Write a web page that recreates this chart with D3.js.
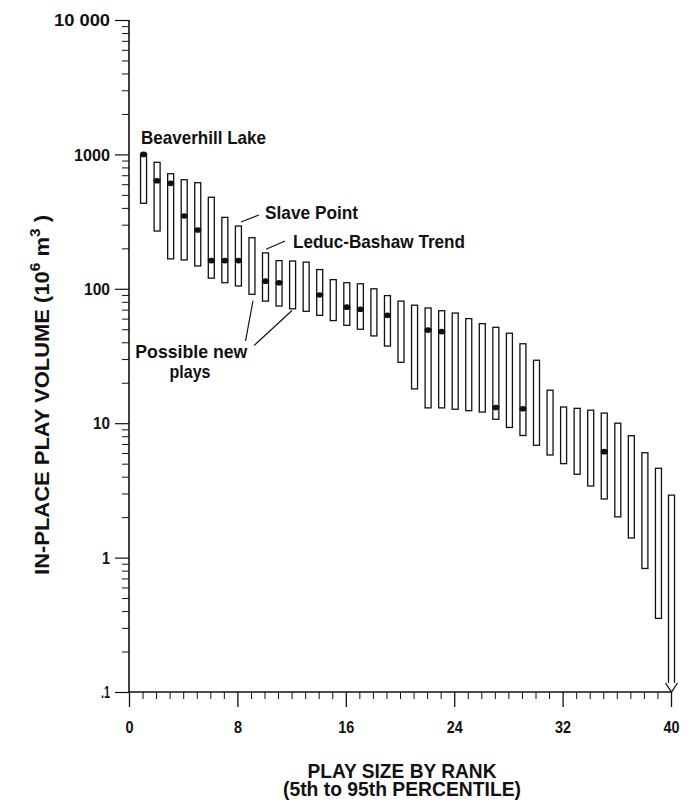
<!DOCTYPE html>
<html>
<head>
<meta charset="utf-8">
<script src="https://cdn.jsdelivr.net/npm/d3@7"></script>
<style>
  html, body { margin: 0; padding: 0; background: #fff; }
  svg { display: block; }
  text { font-family: "Liberation Sans", Arial, Helvetica, sans-serif; font-weight: bold; fill: #111; }
</style>
</head>
<body>
<svg id="chart" width="691" height="801"></svg>
<script>
// ---------- DATA ----------
const ranks = [1,2,3,4,5,6,7,8,9,10,11,12,13,14,15,16,17,18,19,20,21,22,23,24,25,26,27,28,29,30,31,32,33,34,35,36,37,38,39,40];
// top of each bar (10^6 m^3)
const highs = [1000, 873, 718, 648, 616, 480, 340, 293, 240, 185,
               162, 161, 158, 139, 117, 111, 109, 100, 89, 81,
               75.5, 72, 68.7, 66, 60, 55, 51.7, 46.7, 39, 29.4,
               17.6, 13.2, 12.9, 12.5, 11.9, 10, 8.07, 6.03, 4.62, 2.92];
// bottom of each bar
const lows = [433, 269, 167, 164, 148, 120, 111, 105, 91, 81,
              74.5, 71, 68, 63.5, 58, 53.5, 50, 44.6, 37.5, 28.4,
              18, 13, 13, 12.7, 12.4, 12.1, 10.7, 9.3, 8.1, 6.85,
              5.8, 5.0, 4.17, 3.41, 2.73, 2.01, 1.40, 0.83, 0.353, 0.1];
// discovered plays (dots): rank and size
const dotRanks  = [1, 2, 3, 4, 5, 6, 7, 8, 10, 11, 14, 16, 17, 19, 22, 23, 27, 29, 35];
const dotValues = [1000, 637, 609, 348, 274, 162, 162, 162, 114, 111, 90, 73, 70.4, 63.5, 49.3, 48, 13.1, 12.8, 6.14];
// axis ticks
const yMajorTicks = [0.1, 1, 10, 100, 1000, 10000];
const yTickLabels = [".1", "1", "10", "100", "1000", "10 000"];
const xMajorTicks = [0, 8, 16, 24, 32, 40];
const xMinorTicks = [1,2,3,4,5,6,7,9,10,11,12,13,14,15,17,18,19,20,21,22,23,25,26,27,28,29,30,31,33,34,35,36,37,38,39];
const openEndedRank = 40; // bar extends below axis (arrow)

// ---------- LAYOUT ----------
const svg = d3.select("#chart");
const x = d3.scaleLinear().domain([0, 40]).range([129, 671]);
const y = d3.scaleLog().domain([0.1, 10000]).range([692, 20]);

function fit(sel, w) { sel.attr("textLength", w).attr("lengthAdjust", "spacingAndGlyphs"); }

const yMinor = [];
yMajorTicks.slice(0, -1).forEach(d => { for (let k = 2; k <= 9; k++) yMinor.push(d * k); });

const g = svg.append("g");

// ---------- Y AXIS ----------
const yAx = g.append("g").attr("transform", `translate(${x(0)},0)`)
  .call(d3.axisLeft(y).tickValues(yMajorTicks).tickSize(14).tickPadding(5)
    .tickFormat((d, i) => yTickLabels[i]));
yAx.select(".domain").remove();
yAx.selectAll("line").attr("stroke", "#111").attr("stroke-width", 1.2);
yAx.selectAll("text").style("font-size", "16px").attr("dy", "0.35em")
  .each(function (d, i) { d3.select(this).attr("textLength", [9, 8, 17, 26, 36, 56][i]).attr("lengthAdjust", "spacingAndGlyphs"); });

const yAxMinor = g.append("g").attr("transform", `translate(${x(0)},0)`)
  .call(d3.axisLeft(y).tickValues(yMinor).tickSize(7).tickFormat(""));
yAxMinor.select(".domain").remove();
yAxMinor.selectAll("line").attr("stroke", "#111").attr("stroke-width", 1);

g.append("line").attr("x1", x(0)).attr("x2", x(0)).attr("y1", y(10000)).attr("y2", y(0.1))
  .attr("stroke", "#111").attr("stroke-width", 1.6);

// ---------- X AXIS ----------
const xAx = g.append("g").attr("transform", `translate(0,${y(0.1)})`)
  .call(d3.axisBottom(x).tickValues(xMajorTicks).tickSize(15).tickPadding(15).tickFormat(d3.format("d")));
xAx.select(".domain").remove();
xAx.selectAll("line").attr("stroke", "#111").attr("stroke-width", 1.3);
xAx.selectAll("text").style("font-size", "16px")
  .each(function (d) { const s = String(d); d3.select(this).attr("textLength", s.length === 1 ? 8 : 16).attr("lengthAdjust", "spacingAndGlyphs"); });

const xAxMinor = g.append("g").attr("transform", `translate(0,${y(0.1)})`)
  .call(d3.axisBottom(x).tickValues(xMinorTicks).tickSize(7).tickFormat(""));
xAxMinor.select(".domain").remove();
xAxMinor.selectAll("line").attr("stroke", "#111").attr("stroke-width", 1);

g.append("line").attr("x1", x(0)).attr("x2", x(40)).attr("y1", y(0.1)).attr("y2", y(0.1))
  .attr("stroke", "#111").attr("stroke-width", 1.6);

// ---------- BARS ----------
const bw = 6;
const bars = ranks.map((r, i) => ({ r, hi: highs[i], lo: lows[i] }));
g.selectAll("rect.bar").data(bars.filter(d => d.r !== openEndedRank)).join("rect")
  .attr("class", "bar")
  .attr("x", d => x(d.r) - bw / 2 + 1)
  .attr("width", bw)
  .attr("y", d => y(d.hi))
  .attr("height", d => y(d.lo) - y(d.hi))
  .attr("fill", "#fff").attr("stroke", "#111").attr("stroke-width", 1.3);

// open-ended bar with arrow
bars.filter(d => d.r === openEndedRank).forEach(d => {
  const cx = x(d.r) + 0.5, top = y(d.hi), bot = y(d.lo);
  const path = d3.path();
  path.moveTo(cx - bw / 2, bot - 9);
  path.lineTo(cx - bw / 2, top);
  path.lineTo(cx + bw / 2, top);
  path.lineTo(cx + bw / 2, bot - 9);
  g.append("path").attr("d", path.toString()).attr("fill", "#fff").attr("stroke", "#111").attr("stroke-width", 1.3);
  const arr = d3.path();
  arr.moveTo(cx - bw / 2 - 3, bot - 9);
  arr.lineTo(cx, bot);
  arr.lineTo(cx + bw / 2 + 3, bot - 9);
  g.append("path").attr("d", arr.toString()).attr("fill", "none").attr("stroke", "#111").attr("stroke-width", 1.3);
});

// ---------- DOTS ----------
g.selectAll("ellipse.dot").data(dotRanks.map((r, i) => ({ r, v: dotValues[i] }))).join("ellipse")
  .attr("class", "dot")
  .attr("cx", d => x(d.r) + 1).attr("cy", d => y(d.v))
  .attr("rx", 3.6).attr("ry", 2.8).attr("fill", "#111");

// ---------- ANNOTATIONS ----------
const lines = [
  { x1: 8.27, v1: 314, x2: 9.59, v2: 354 },     // Slave Point
  { x1: 10.12, v1: 197, x2: 11.51, v2: 227 },   // Leduc-Bashaw
  { x1: 9.15, v1: 81.5, x2: 8.6, v2: 40.9 },    // Possible new plays 1
  { x1: 9.23, v1: 37.8, x2: 12.03, v2: 69 }     // Possible new plays 2
];
g.selectAll("line.lead").data(lines).join("line").attr("class", "lead")
  .attr("x1", d => x(d.x1)).attr("y1", d => y(d.v1))
  .attr("x2", d => x(d.x2)).attr("y2", d => y(d.v2))
  .attr("stroke", "#111").attr("stroke-width", 1.2);

const labels = [
  { t: "Beaverhill Lake", xr: 0.89, v: 1194, anchor: "start", w: 125 },
  { t: "Slave Point", xr: 10.04, v: 330, anchor: "start", w: 93 },
  { t: "Leduc-Bashaw Trend", xr: 12.1, v: 201, anchor: "start", w: 172 },
  { t: "Possible new", xr: 4.6, v: 30.6, anchor: "middle", w: 112 },
  { t: "plays", xr: 4.5, v: 21.7, anchor: "middle", w: 41 }
];
g.selectAll("text.ann").data(labels).join("text").attr("class", "ann")
  .attr("x", d => x(d.xr)).attr("y", d => y(d.v))
  .attr("text-anchor", d => d.anchor)
  .style("font-size", "19px")
  .attr("textLength", d => d.w).attr("lengthAdjust", "spacingAndGlyphs")
  .text(d => d.t);

// ---------- AXIS TITLES ----------
svg.append("text").attr("x", 402).attr("y", 778).attr("text-anchor", "middle")
  .style("font-size", "20px").call(fit, 189).text("PLAY SIZE BY RANK");
svg.append("text").attr("x", 402).attr("y", 796).attr("text-anchor", "middle")
  .style("font-size", "20px").call(fit, 238).text("(5th to 95th PERCENTILE)");

const yt = svg.append("text").attr("text-anchor", "middle").style("font-size", "20px");
yt.append("tspan").text("IN-PLACE PLAY VOLUME  (10");
yt.append("tspan").attr("dy", -9).style("font-size", "14px").text("6");
yt.append("tspan").attr("dy", 9).text(" m");
yt.append("tspan").attr("dy", -9).style("font-size", "14px").text("3");
yt.append("tspan").attr("dy", 9).text(" )");
const ytw = yt.node().getComputedTextLength();
yt.attr("transform", `translate(49,395) rotate(-90) scale(${360 / ytw},1)`);
</script>
</body>
</html>
